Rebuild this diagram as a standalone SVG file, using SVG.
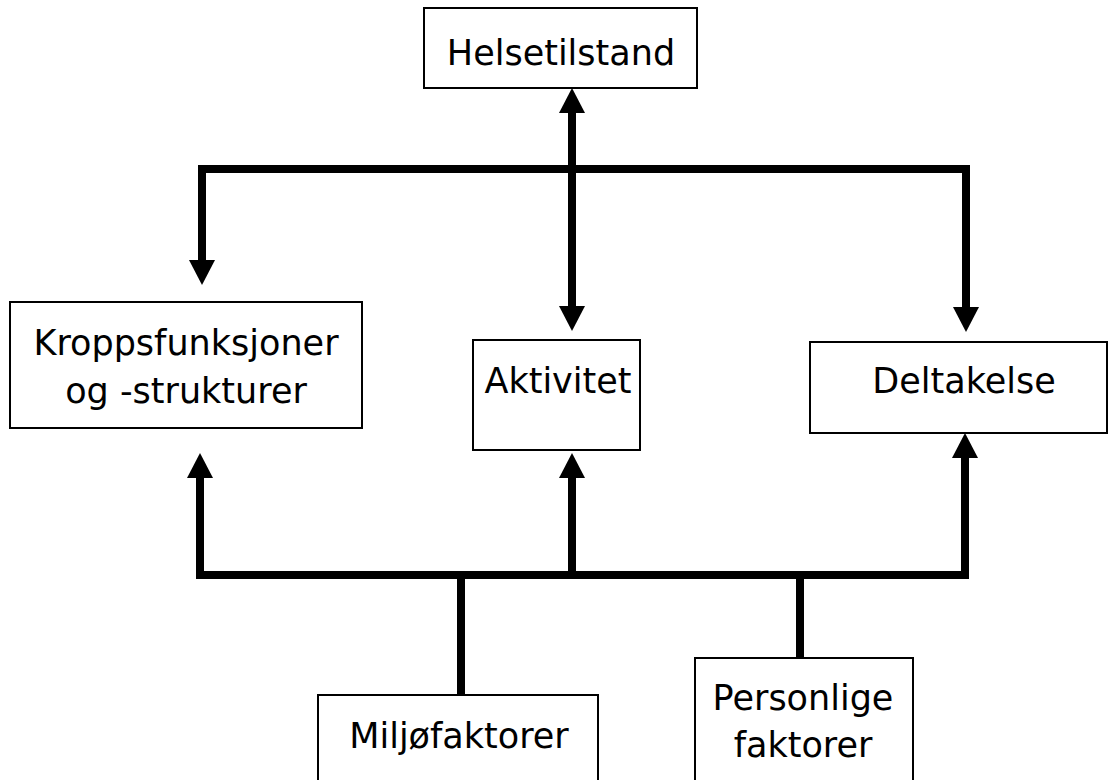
<svg xmlns="http://www.w3.org/2000/svg" width="1111" height="780" viewBox="0 0 1111 780">
  <style>
    .box { fill: #ffffff; stroke: #000000; stroke-width: 2; }
    .lbl { font-family: "DejaVu Sans", "Liberation Sans", sans-serif; font-size: 35px; fill: #000000; text-anchor: middle; }
    .conn { fill: none; stroke: #000000; stroke-width: 8; stroke-linejoin: miter; }
  </style>
  <defs>
    <marker id="arrow" viewBox="0 0 25 26" refX="0" refY="13" markerWidth="25" markerHeight="26" markerUnits="userSpaceOnUse" orient="auto-start-reverse">
      <path d="M0,0 L25,13 L0,26 Z" fill="#000000"/>
    </marker>
  </defs>
  <rect width="1111" height="780" fill="#ffffff"/>

  <g id="connectors">
    <path class="conn" d="M202,260 V169 H966 V307" marker-start="url(#arrow)" marker-end="url(#arrow)"/>
    <path class="conn" d="M572,113 V306" marker-start="url(#arrow)" marker-end="url(#arrow)"/>
    <path class="conn" d="M200,478 V575 H965 V458" marker-start="url(#arrow)" marker-end="url(#arrow)"/>
    <path class="conn" d="M572,575 V478" marker-end="url(#arrow)"/>
    <path class="conn" d="M461,575 V695"/>
    <path class="conn" d="M800,575 V658"/>
  </g>

  <g id="helsetilstand">
    <rect class="box" x="424" y="8" width="273" height="80"/>
    <text class="lbl" x="561" y="65">Helsetilstand</text>
  </g>
  <g id="kroppsfunksjoner">
    <rect class="box" x="10" y="302" width="352" height="126"/>
    <text class="lbl" x="186" y="355">Kroppsfunksjoner</text>
    <text class="lbl" x="186" y="403">og -strukturer</text>
  </g>
  <g id="aktivitet">
    <rect class="box" x="473" y="340" width="167" height="110"/>
    <text class="lbl" x="558" y="393">Aktivitet</text>
  </g>
  <g id="deltakelse">
    <rect class="box" x="810" y="342" width="297" height="91"/>
    <text class="lbl" x="964" y="393">Deltakelse</text>
  </g>
  <g id="miljofaktorer">
    <rect class="box" x="318" y="695" width="280" height="100"/>
    <text class="lbl" x="459" y="748">Miljøfaktorer</text>
  </g>
  <g id="personlige">
    <rect class="box" x="695" y="658" width="218" height="130"/>
    <text class="lbl" x="803" y="710">Personlige</text>
    <text class="lbl" x="803" y="757">faktorer</text>
  </g>
</svg>
